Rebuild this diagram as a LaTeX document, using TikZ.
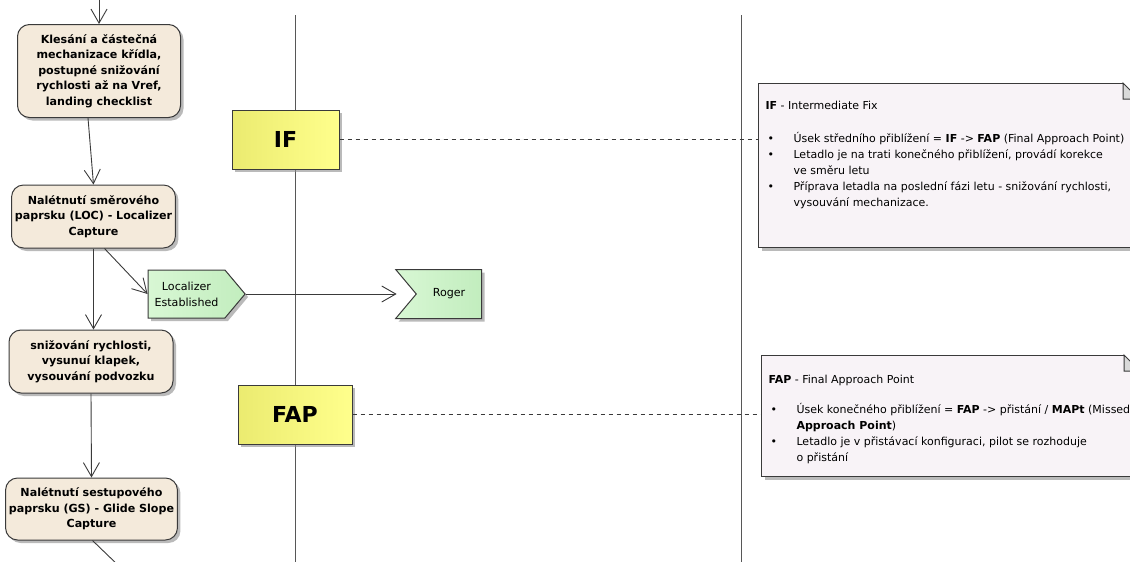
\documentclass[tikz,border=0pt]{standalone}
\usepackage{fontspec}
\setmainfont{DejaVu Sans}
\usetikzlibrary{arrows.meta,shapes.symbols,shadows}
\definecolor{actfill}{HTML}{F4EADB}
\definecolor{actline}{HTML}{3A3A3A}
\definecolor{fixleft}{HTML}{EBEB70}
\definecolor{fixright}{HTML}{FFFF8C}
\definecolor{sigleft}{HTML}{D8F7D4}
\definecolor{sigright}{HTML}{C2EDBE}
\definecolor{notefill}{HTML}{F8F3F7}
\newcommand{\nb}{\makebox[28pt][l]{\hspace{2pt}\textbullet}}
\newcommand{\nbgap}{\hspace*{28pt}}

\begin{document}
\begin{tikzpicture}[
        x=1pt, y=-1pt,
        shadowed/.style={drop shadow={shadow xshift=3pt,shadow yshift=-3pt,fill=black!45,opacity=.6}},
        action/.style={draw=actline, line width=1pt, fill=actfill, rounded corners=12pt,
                align=center, font=\fontsize{11.1}{15.5}\selectfont\bfseries, shadowed},
        fix/.style={draw=actline, line width=1pt, left color=fixleft, right color=fixright,
                font=\fontsize{22}{26}\selectfont\bfseries, shadowed},
        sig/.style={signal, draw=actline, line width=1pt, left color=sigleft, right color=sigright,
                signal pointer angle=100, align=center, font=\fontsize{11.1}{16}\selectfont, shadowed},
        note/.style={draw=actline, line width=1pt, fill=notefill, shadowed},
        notetext/.style={anchor=north west, align=left, font=\fontsize{11}{16}\selectfont},
        flow/.style={-{Straight Barb[length=14pt,width=16pt]}, actline, line width=.9pt},
        lifeline/.style={actline!85, line width=1pt},
        trace/.style={actline, line width=.9pt, dash pattern=on 4pt off 4pt}
    ]
    \clip (0,0) rectangle (1130,562);

    \draw[lifeline] (295,15) -- (295,565);
    \draw[lifeline] (741,15) -- (741,565);

    \node[action, minimum width=163pt, minimum height=93pt] (descent) at (99,71)
        {Klesání a částečná\\mechanizace křídla,\\postupné snižování\\rychlosti až na Vref,\\landing checklist};
    \node[action, minimum width=163pt, minimum height=63pt] (loccap) at (93.5,216.5)
        {Nalétnutí směrového\\paprsku (LOC) - Localizer\\Capture};
    \node[action, minimum width=164pt, minimum height=63pt] (slowdown) at (91,361.5)
        {snižování rychlosti,\\vysunuí klapek,\\vysouvání podvozku};
    \node[action, minimum width=163pt, minimum height=62pt] (gscap) at (91.5,509)
        {Nalétnutí sestupového\\paprsku (GS) - Glide Slope\\Capture};

    \node[sig, signal to=east, minimum width=97pt, minimum height=48pt] (locest) at (186.5,294)
        {Localizer\\Established};
    \node[sig, signal to=nowhere, signal from=west, minimum width=86pt, minimum height=49pt] (roger) at (449,294) {Roger};

    \node[fix, minimum width=107pt, minimum height=59pt] (iffix) at (285.5,139.5) {IF};
    \node[fix, minimum width=114pt, minimum height=59pt] (fapfix) at (295,414.5) {FAP};

    \node[note, anchor=north west, minimum width=380pt, minimum height=164pt] (ifnote) at (758,83) {};
    \node[note, anchor=north west, minimum width=378pt, minimum height=121pt] (fapnote) at (761,355) {};
    \foreach \n in {ifnote,fapnote} {
        \fill[white] ([xshift=-16pt]\n.north east) -- (\n.north east) -- ([yshift=-16pt]\n.north east) -- cycle;
        \draw[actline, line width=1pt, fill=black!15] ([xshift=-16pt]\n.north east)
            -- ([xshift=-16pt,yshift=-16pt]\n.north east) -- ([yshift=-16pt]\n.north east) -- cycle;
    }
    \node[notetext] at ([xshift=4pt,yshift=-15pt]ifnote.north west)
        {\textbf{IF} - Intermediate Fix\\[17pt]
         \nb Úsek středního přiblížení = \textbf{IF} -> \textbf{FAP} (Final Approach Point)\\
         \nb Letadlo je na trati konečného přiblížení, provádí korekce\\
         \nbgap ve směru letu\\
         \nb Příprava letadla na poslední fázi letu - snižování rychlosti,\\
         \nbgap vysouvání mechanizace.};
    \node[notetext] at ([xshift=4pt,yshift=-17pt]fapnote.north west)
        {\textbf{FAP} - Final Approach Point\\[14pt]
         \nb Úsek konečného přiblížení = \textbf{FAP} -> přistání / \textbf{MAPt} (Missed\\
         \nbgap \textbf{Approach Point})\\
         \nb Letadlo je v přistávací konfiguraci, pilot se rozhoduje\\
         \nbgap o přistání};

    \coordinate (entry) at (99,-20);
    \coordinate (exit) at (121,568);
    \draw[flow] (entry) -- (descent.north);
    \draw[flow] ([xshift=-11pt]descent.south) -- (loccap.north);
    \draw[flow] (loccap.south) -- (loccap.south |- slowdown.north);
    \draw[flow] ([xshift=11pt]loccap.south) -- (locest.west);
    \draw[flow] (slowdown.south) -- (gscap.north);
    \draw[actline, line width=.9pt] ([xshift=1pt]gscap.south) -- (exit);
    \draw[flow] (locest.east) -- ([xshift=-19pt]roger.west);
    \draw[trace] (iffix.east) -- (iffix.east -| ifnote.west);
    \draw[trace] (fapfix.east) -- (fapfix.east -| fapnote.west);
\end{tikzpicture}
\end{document}
